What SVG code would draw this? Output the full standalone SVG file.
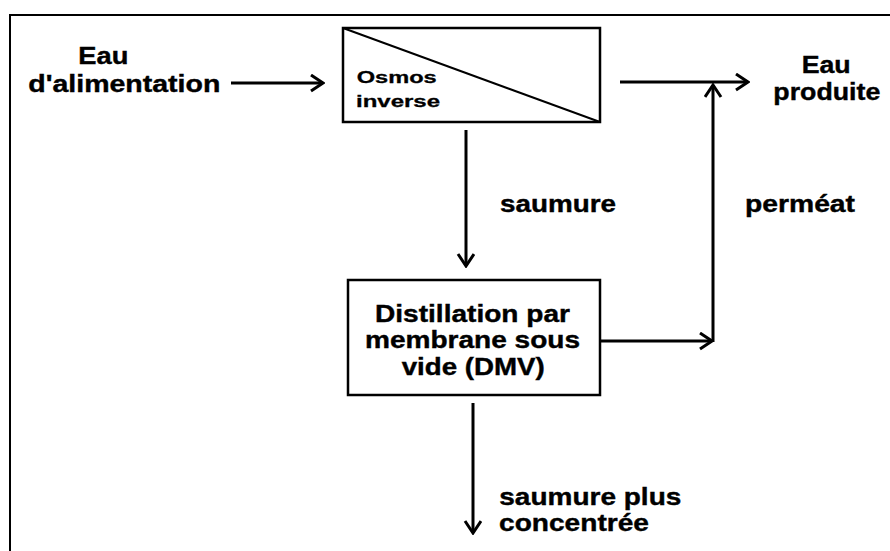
<svg xmlns="http://www.w3.org/2000/svg" width="890" height="551" viewBox="0 0 890 551">
<style>
.t{font-family:"Liberation Sans",Arial,sans-serif;font-weight:bold;font-size:24px;fill:#000;stroke:#000;stroke-width:0.4}
.s{font-size:17px;stroke-width:0.3}
.box{fill:#fff;stroke:#000;stroke-width:2.5}
.c{fill:none;stroke:#000;stroke-width:3}
</style>
<defs>
<marker id="ah" markerUnits="userSpaceOnUse" viewBox="-1 -1 15 19" refX="12" refY="8" markerWidth="15" markerHeight="19" orient="auto">
<path d="M0,0 L12,8 L0,16" fill="none" stroke="#000" stroke-width="3"/>
</marker>
</defs>
<rect x="10" y="15" width="900" height="600" fill="#fff" stroke="#000" stroke-width="2"/>
<g id="connectors">
<line class="c" x1="231" y1="83" x2="323" y2="83" marker-end="url(#ah)"/>
<line class="c" x1="620" y1="82" x2="748" y2="82" marker-end="url(#ah)"/>
<line class="c" x1="466" y1="130" x2="466" y2="266" marker-end="url(#ah)"/>
<line class="c" x1="600" y1="341" x2="712" y2="341" marker-end="url(#ah)"/>
<line class="c" x1="713" y1="342" x2="713" y2="85" marker-end="url(#ah)"/>
<line class="c" x1="473" y1="403" x2="473" y2="533" marker-end="url(#ah)"/>
</g>
<g id="feed">
<text class="t" x="78.3" y="64" textLength="50" lengthAdjust="spacingAndGlyphs">Eau</text>
<text class="t" x="28.3" y="91.7" textLength="192" lengthAdjust="spacingAndGlyphs">d'alimentation</text>
</g>
<g id="osmose">
<rect class="box" x="343" y="28" width="257" height="94"/>
<line x1="343" y1="28" x2="600" y2="122" stroke="#000" stroke-width="2"/>
<text class="t s" x="356.7" y="83.3" textLength="80" lengthAdjust="spacingAndGlyphs">Osmos</text>
<text class="t s" x="356" y="106.7" textLength="84" lengthAdjust="spacingAndGlyphs">inverse</text>
</g>
<g id="product">
<text class="t" x="801.7" y="73.3" textLength="49" lengthAdjust="spacingAndGlyphs">Eau</text>
<text class="t" x="773.3" y="100" textLength="107" lengthAdjust="spacingAndGlyphs">produite</text>
</g>
<g id="label-saumure">
<text class="t" x="500" y="211.7" textLength="116" lengthAdjust="spacingAndGlyphs">saumure</text>
</g>
<g id="label-permeat">
<text class="t" x="745" y="211.7" textLength="110" lengthAdjust="spacingAndGlyphs">perméat</text>
</g>
<g id="dmv">
<rect class="box" x="348" y="280" width="252" height="115"/>
<text class="t" x="375" y="321.7" textLength="195" lengthAdjust="spacingAndGlyphs">Distillation par</text>
<text class="t" x="365" y="348.3" textLength="215" lengthAdjust="spacingAndGlyphs">membrane sous</text>
<text class="t" x="401.7" y="375" textLength="143" lengthAdjust="spacingAndGlyphs">vide (DMV)</text>
</g>
<g id="concentrate">
<text class="t" x="499.3" y="505" textLength="182" lengthAdjust="spacingAndGlyphs">saumure plus</text>
<text class="t" x="499" y="531" textLength="150" lengthAdjust="spacingAndGlyphs">concentrée</text>
</g>
</svg>
